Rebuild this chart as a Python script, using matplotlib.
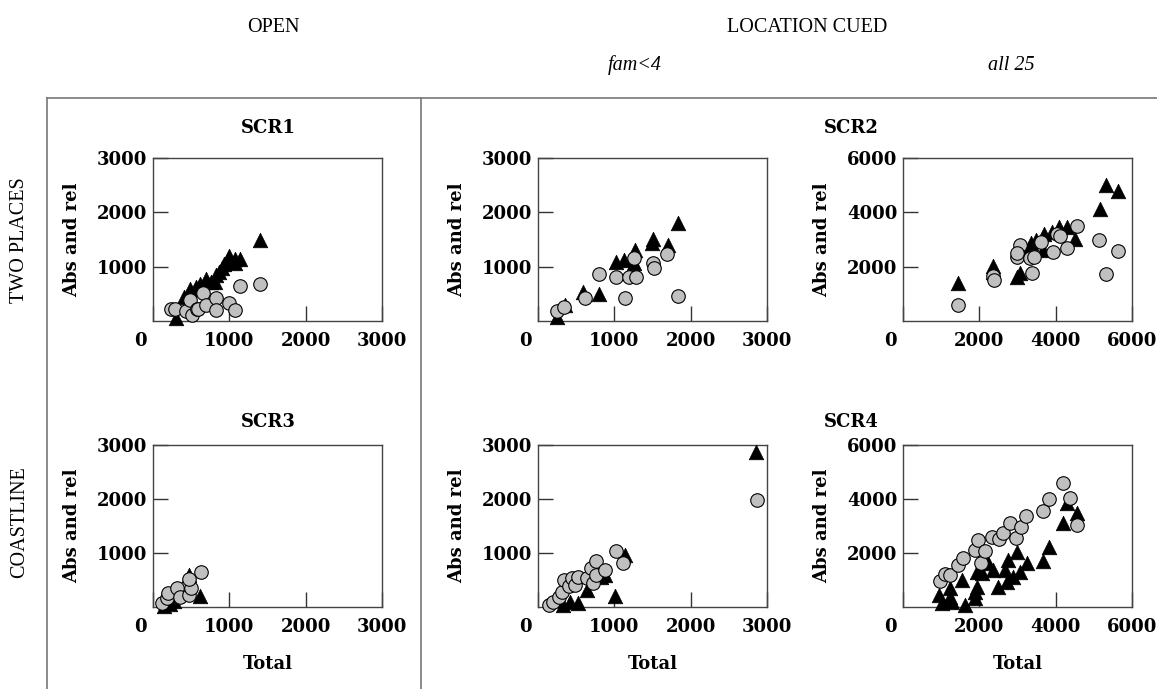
import matplotlib
matplotlib.use("Agg")
import matplotlib.pyplot as plt
from matplotlib.lines import Line2D
from matplotlib.transforms import ScaledTranslation

W, H = 1157, 689

# ---------------- data ----------------
# SCR1 : OPEN / TWO PLACES
scr1_tri_x = [300, 400, 490, 560, 620, 700, 760, 810, 830, 870, 900, 930, 990, 1000, 1070, 1080, 1140, 1400]
scr1_tri_y = [50, 450, 580, 620, 680, 780, 720, 720, 850, 900, 970, 1050, 1200, 1100, 1060, 1150, 1150, 1490]
scr1_cir_x = [230, 290, 430, 480, 510, 570, 590, 660, 690, 830, 830, 990, 1070, 1140, 1400]
scr1_cir_y = [215, 215, 175, 390, 110, 230, 215, 510, 290, 430, 200, 330, 210, 640, 680]

# SCR2 : LOCATION CUED fam<4 / TWO PLACES
scr2a_tri_x = [245, 354, 594, 803, 1022, 1131, 1262, 1271, 1489, 1511, 1699, 1830]
scr2a_tri_y = [79, 294, 528, 491, 1080, 1122, 1073, 1306, 1430, 1503, 1398, 1800]
scr2a_cir_x = [245, 341, 616, 803, 1022, 1140, 1192, 1262, 1284, 1511, 1520, 1694, 1830]
scr2a_cir_y = [184, 263, 429, 859, 815, 429, 804, 1165, 815, 1061, 969, 1227, 466]

# SCR2 : LOCATION CUED all 25 / TWO PLACES
scr2b_tri_x = [1433, 2366, 2366, 2979, 3065, 3354, 3476, 3676, 3896, 4087, 4288, 4506, 5161, 5311, 5642, 3700, 3200]
scr2b_tri_y = [1387, 2024, 1800, 1608, 1755, 2881, 2981, 2613, 3286, 3448, 3470, 3006, 4110, 5000, 4795, 3200, 2700]
scr2b_cir_x = [1449, 2366, 2392, 2979, 3065, 2995, 3327, 3440, 3616, 3388, 3922, 4027, 4113, 4288, 4550, 5143, 5319, 5642]
scr2b_cir_y = [589, 1656, 1509, 2366, 2797, 2491, 2307, 2360, 2896, 1755, 2528, 3190, 3128, 2697, 3496, 2981, 1730, 2576]

# SCR3 : OPEN / COASTLINE
scr3_tri_x = [150, 220, 280, 470, 620]
scr3_tri_y = [20, 50, 120, 600, 200]
scr3_cir_x = [120, 180, 200, 310, 350, 470, 500, 470, 630]
scr3_cir_y = [80, 170, 260, 360, 190, 220, 350, 520, 650]

# SCR4 : LOCATION CUED fam<4 / COASTLINE
scr4a_tri_x = [330, 420, 530, 640, 820, 880, 1010, 1140, 2860]
scr4a_tri_y = [30, 100, 70, 320, 560, 600, 200, 960, 2870]
scr4a_cir_x = [150, 200, 270, 310, 340, 400, 440, 490, 530, 640, 700, 720, 760, 760, 880, 1020, 1120, 2870]
scr4a_cir_y = [40, 100, 190, 280, 500, 380, 530, 410, 560, 530, 720, 440, 600, 850, 690, 1030, 810, 1980]

# SCR4 : LOCATION CUED all 25 / COASTLINE
scr4b_tri_x = [951, 1014, 1231, 1231, 1276, 1538, 1624, 1886, 1886, 1931, 1931, 2062, 2236, 2367,
               2497, 2672, 2717, 2760, 2890, 2979, 3065, 3241, 3676, 3833, 4200, 4288, 4550]
scr4b_tri_y = [444, 137, 692, 380, 196, 999, 74, 566, 320, 1306, 751, 1247, 1617, 1369,
               751, 1369, 936, 1739, 1121, 2046, 1306, 1617, 1713, 2209, 3097, 3837, 3467]
scr4b_cir_x = [969, 1100, 1231, 1449, 1580, 1886, 1973, 2044, 2148, 2324, 2515, 2628, 2803, 2961,
               3084, 3223, 3676, 3833, 4200, 4375, 4567]
scr4b_cir_y = [973, 1221, 1184, 1554, 1802, 2109, 2479, 1617, 2083, 2601, 2505, 2727, 3097, 2542,
               2971, 3367, 3563, 3985, 4577, 4044, 3034]

panels = [
    (153, 158, 321, 3000, scr1_tri_x, scr1_tri_y, scr1_cir_x, scr1_cir_y, False),
    (538, 158, 321, 3000, scr2a_tri_x, scr2a_tri_y, scr2a_cir_x, scr2a_cir_y, False),
    (903, 158, 321, 6000, scr2b_tri_x, scr2b_tri_y, scr2b_cir_x, scr2b_cir_y, False),
    (153, 445, 607, 3000, scr3_tri_x, scr3_tri_y, scr3_cir_x, scr3_cir_y, True),
    (538, 445, 607, 3000, scr4a_tri_x, scr4a_tri_y, scr4a_cir_x, scr4a_cir_y, True),
    (903, 445, 607, 6000, scr4b_tri_x, scr4b_tri_y, scr4b_cir_x, scr4b_cir_y, True),
]

TICKFONT = dict(family="DejaVu Serif", weight="bold", size=13)
HEADFONT = dict(family="Liberation Serif", size=14.5)

fig = plt.figure(figsize=(W / 100, H / 100), dpi=100)
fig.patch.set_facecolor("white")

AX_W = 229
for left, top, bottom, xmax, tx, ty, cx, cy, bottom_row in panels:
    ax = fig.add_axes([left / W, 1 - bottom / H, AX_W / W, (bottom - top) / H])
    ax.set_xlim(0, xmax)
    ax.set_ylim(0, xmax)
    ax.scatter(tx, ty, marker="^", s=110, c="black", edgecolors="black", linewidths=0.5, zorder=3, clip_on=False)
    ax.scatter(cx, cy, marker="o", s=95, c="#c0c0c0", edgecolors="black", linewidths=0.8, zorder=4, clip_on=False)
    step = xmax // 3
    ax.set_xticks([0, step, 2 * step, 3 * step])
    ax.set_yticks([step, 2 * step, 3 * step])
    ax.set_xticklabels([str(v) for v in [0, step, 2 * step, 3 * step]], fontdict=TICKFONT)
    ax.set_yticklabels([str(v) for v in [step, 2 * step, 3 * step]], fontdict=TICKFONT)
    ax.tick_params(axis="both", direction="in", length=11, width=1.0, color="#333333")
    ax.tick_params(axis="x", pad=8)
    ax.tick_params(axis="y", pad=4)
    lab0 = ax.get_xticklabels()[0]
    lab0.set_transform(lab0.get_transform() + ScaledTranslation(-0.13, 0, fig.dpi_scale_trans))
    for sp in ax.spines.values():
        sp.set_color("#444444")
        sp.set_linewidth(1.0)
    ax.set_ylabel("Abs and rel", fontdict=TICKFONT)
    ax.yaxis.set_label_coords(-72 / AX_W, 0.5)
    if bottom_row:
        ax.set_xlabel("Total", fontdict=TICKFONT)
        ax.xaxis.set_label_coords(0.5, -(655 - bottom) / (bottom - top))

def ftext(x, y, s, **kw):
    fig.text(x / W, 1 - y / H, s, ha="center", va="center", **kw)

ftext(273, 27, "OPEN", **HEADFONT)
ftext(807, 27, "LOCATION CUED", **HEADFONT)
ftext(635, 65, "fam<4", style="italic", **HEADFONT)
ftext(1011, 65, "all 25", style="italic", **HEADFONT)
ftext(20, 240, "TWO PLACES", rotation=90, **HEADFONT)
ftext(20, 522, "COASTLINE", rotation=90, **HEADFONT)

ftext(268, 128, "SCR1", **TICKFONT)
ftext(851, 128, "SCR2", **TICKFONT)
ftext(268, 422, "SCR3", **TICKFONT)
ftext(851, 422, "SCR4", **TICKFONT)

line_kw = dict(color="#777777", linewidth=1.2)
fig.add_artist(Line2D([47 / W, 1.0], [1 - 98 / H, 1 - 98 / H], **line_kw))
fig.add_artist(Line2D([47 / W, 47 / W], [1 - 98 / H, 0], **line_kw))
fig.add_artist(Line2D([421 / W, 421 / W], [1 - 98 / H, 0], **line_kw))

fig.savefig("out.png", dpi=100, facecolor="white")
